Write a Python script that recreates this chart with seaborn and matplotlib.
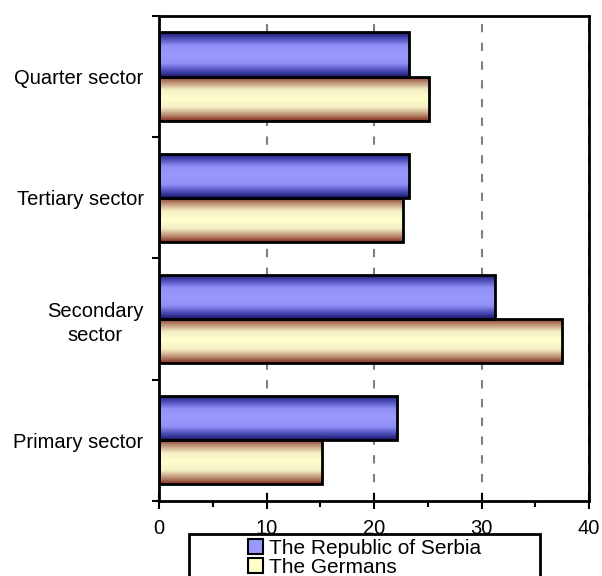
import numpy as np
import pandas as pd
import matplotlib
matplotlib.use('Agg')
import matplotlib.pyplot as plt
import seaborn as sns
from matplotlib.colors import LinearSegmentedColormap
from matplotlib.patches import Rectangle, Patch

# dados
sectors = ['Quarter sector', 'Tertiary sector', 'Secondary\nsector', 'Primary sector']
serbia = [23.3, 23.3, 31.3, 22.1]
germans = [25.1, 22.7, 37.5, 15.2]
groups = ['The Republic of Serbia', 'The Germans']

df = pd.DataFrame({
    'sector': sectors * 2,
    'value': serbia + germans,
    'group': [groups[0]] * len(sectors) + [groups[1]] * len(sectors),
})

sns.set_style('white')
plt.rcParams['font.family'] = ['Liberation Sans', 'DejaVu Sans']
plt.rcParams['text.color'] = 'black'
plt.rcParams['axes.edgecolor'] = 'black'
plt.rcParams['xtick.color'] = 'black'
plt.rcParams['ytick.color'] = 'black'

fig = plt.figure(figsize=(6.02, 5.76), dpi=100)
ax = fig.add_axes([159 / 602, 1 - 500.7 / 576, 430 / 602, (500.7 - 16) / 576])

sns.barplot(data=df, y='sector', x='value', hue='group', orient='h', width=0.73,
            palette=['#9999ff', '#ffffcc'], saturation=1, legend=False, ax=ax)

# gradiente nas barras (escuro nas bordas, claro no meio)
grad = 1 - np.abs(np.linspace(-1, 1, 61))
cmaps = [
    LinearSegmentedColormap.from_list('azul', [(0, '#18186a'), (0.25, '#4848b4'),
                                               (0.6, '#9090f6'), (1, '#9999ff')]),
    LinearSegmentedColormap.from_list('bege', [(0, '#86301f'), (0.25, '#b98a70'),
                                               (0.6, '#f4eec4'), (1, '#ffffcc')]),
]
for cont, cmap in zip(ax.containers, cmaps):
    for bar in cont:
        x0, y0 = bar.get_x(), bar.get_y()
        w, h = bar.get_width(), bar.get_height()
        im = ax.imshow(grad[:, None], cmap=cmap, aspect='auto', interpolation='bilinear',
                       origin='lower', extent=[x0, x0 + w, y0, y0 + h], zorder=2)
        im.set_clip_path(bar)
        bar.set_facecolor('none')
        bar.set_edgecolor('black')
        bar.set_linewidth(2)
        bar.set_zorder(3)

ax.set_xlim(0, 40)
ax.set_ylim(3.5, -0.5)
ax.set_xlabel('')
ax.set_ylabel('')

ax.set_xticks([0, 10, 20, 30, 40])
ax.set_xticks([5, 15, 25, 35], minor=True)
ax.set_yticks(range(len(sectors)))
ax.set_yticklabels(sectors)
ax.set_yticks([-0.5, 0.5, 1.5, 2.5, 3.5], minor=True)
ax.tick_params(axis='x', which='major', bottom=True, direction='inout', length=11, width=1.5,
               pad=8, labelsize=14.5)
ax.tick_params(axis='x', which='minor', bottom=True, direction='out', length=4, width=1.5)
ax.tick_params(axis='y', which='major', left=False, length=0, pad=11, labelsize=14.5)
ax.tick_params(axis='y', which='minor', left=True, direction='out', length=5, width=1.5)
for lbl in ax.get_yticklabels():
    lbl.set_multialignment('center')
    lbl.set_linespacing(1.35)

for s in ax.spines.values():
    s.set_linewidth(2)
    s.set_color('black')

ax.xaxis.grid(True, linestyle=(0, (4, 5)), color='#808080', linewidth=1.5)
ax.set_axisbelow(True)

# legenda
handles = [Patch(facecolor='#9999ff', edgecolor='black', linewidth=1.5),
           Patch(facecolor='#ffffcc', edgecolor='black', linewidth=1.5)]
fig.legend(handles, groups, loc='upper center', bbox_to_anchor=(364.5 / 602, 1 - 539 / 576),
           frameon=False, fontsize=15, labelspacing=0, handlelength=0.75, handleheight=0.75,
           handletextpad=0.3, borderpad=0, borderaxespad=0)
fig.patches.append(Rectangle((189 / 602, -0.05), 351 / 602, 0.05 + 1 - 534 / 576,
                             transform=fig.transFigure, fill=False, edgecolor='black', linewidth=2))

fig.savefig('out.png', dpi=100)
